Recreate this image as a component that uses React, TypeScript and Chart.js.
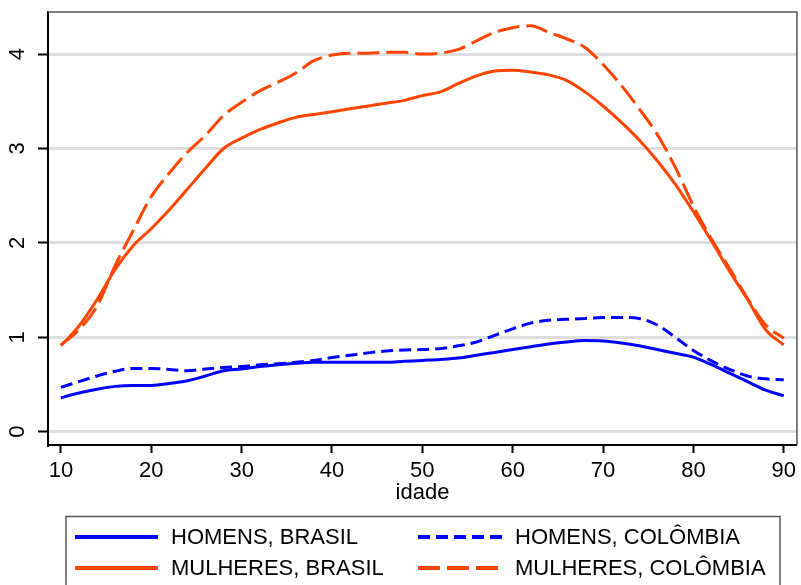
import { useEffect, useRef } from 'react';
import { Chart, registerables } from 'chart.js';

Chart.register(...registerables);

const ages = [10, 12, 14, 16, 18, 20, 22, 24, 26, 28, 30, 32, 34, 36, 38, 40, 42, 44, 46, 48, 50, 52, 54, 56, 58, 60, 62, 64, 66, 68, 70, 72, 74, 76, 78, 80, 82, 84, 86, 88, 90];

const homensBrasil = [0.36, 0.41, 0.45, 0.48, 0.49, 0.49, 0.51, 0.54, 0.59, 0.645, 0.665, 0.69, 0.71, 0.725, 0.735, 0.735, 0.735, 0.735, 0.735, 0.745, 0.755, 0.765, 0.78, 0.81, 0.84, 0.87, 0.9, 0.93, 0.95, 0.965, 0.96, 0.94, 0.91, 0.87, 0.83, 0.79, 0.71, 0.62, 0.53, 0.44, 0.38];

const homensColombia = [0.47, 0.53, 0.59, 0.64, 0.67, 0.67, 0.66, 0.645, 0.665, 0.68, 0.69, 0.71, 0.72, 0.735, 0.755, 0.785, 0.81, 0.835, 0.855, 0.865, 0.87, 0.88, 0.91, 0.95, 1.02, 1.09, 1.15, 1.18, 1.19, 1.2, 1.21, 1.21, 1.2, 1.13, 1.0, 0.86, 0.75, 0.66, 0.59, 0.56, 0.55];

const mulheresBrasil = [0.91, 1.12, 1.4, 1.72, 1.97, 2.15, 2.35, 2.57, 2.79, 3.0, 3.11, 3.2, 3.27, 3.33, 3.36, 3.39, 3.42, 3.45, 3.48, 3.51, 3.56, 3.6, 3.69, 3.77, 3.82, 3.83, 3.81, 3.78, 3.72, 3.6, 3.45, 3.28, 3.09, 2.87, 2.62, 2.33, 2.02, 1.7, 1.4, 1.08, 0.92];

const mulheresColombia = [0.92, 1.08, 1.33, 1.76, 2.13, 2.49, 2.74, 2.96, 3.14, 3.35, 3.49, 3.61, 3.7, 3.8, 3.93, 3.99, 4.01, 4.01, 4.02, 4.02, 4.0, 4.01, 4.05, 4.14, 4.23, 4.28, 4.3, 4.23, 4.16, 4.07, 3.89, 3.67, 3.42, 3.15, 2.8, 2.39, 2.04, 1.73, 1.41, 1.13, 0.99];

const seriesLabels = ['HOMENS, BRASIL', 'HOMENS, COLÔMBIA', 'MULHERES, BRASIL', 'MULHERES, COLÔMBIA'];
const xTicks = [10, 20, 30, 40, 50, 60, 70, 80, 90];
const yTicks = [0, 1, 2, 3, 4];
const xTitle = 'idade';

const BLUE = '#0000ff';
const ORANGE = '#ff4500';
const FONT = '"Liberation Sans", Arial, Helvetica, sans-serif';

const toPoints = (vals: number[]) => ages.map((a, i) => ({ x: a, y: vals[i] }));

const decorPlugin = {
  id: 'decor',
  afterDraw(chart: any) {
    const { ctx, chartArea: a, scales } = chart;
    const ys = scales.y;
    ctx.save();
    // top/right frame
    ctx.strokeStyle = '#555';
    ctx.lineWidth = 1.5;
    ctx.beginPath();
    ctx.moveTo(a.left, a.top);
    ctx.lineTo(a.right, a.top);
    ctx.lineTo(a.right, a.bottom);
    ctx.stroke();

    // rotated y tick labels
    ctx.fillStyle = '#000';
    ctx.font = `22px ${FONT}`;
    ctx.textAlign = 'center';
    ctx.textBaseline = 'middle';
    for (const v of yTicks) {
      const py = ys.getPixelForValue(v);
      ctx.save();
      ctx.translate(17.5, py);
      ctx.rotate(-Math.PI / 2);
      ctx.fillText(String(v), 0, 0);
      ctx.restore();
    }

    // x title
    ctx.fillText(xTitle, (a.left + a.right) / 2, 493);

    // legend
    ctx.strokeStyle = '#555';
    ctx.lineWidth = 1.5;
    ctx.strokeRect(66, 516.5, 714, 100);
    const cols = [{ x0: 75, x1: 158, tx: 171 }, { x0: 418, x1: 502, tx: 515 }];
    const rows = [537, 568];
    chart.data.datasets.forEach((ds: any, i: number) => {
      const c = cols[i % 2];
      const r = rows[Math.floor(i / 2)];
      ctx.save();
      ctx.strokeStyle = ds.borderColor;
      ctx.lineWidth = 4;
      ctx.lineCap = 'butt';
      ctx.setLineDash(ds.borderDash || []);
      ctx.beginPath();
      ctx.moveTo(c.x0, r);
      ctx.lineTo(c.x1, r);
      ctx.stroke();
      ctx.restore();
      ctx.fillStyle = '#000';
      ctx.textAlign = 'left';
      ctx.textBaseline = 'middle';
      ctx.font = `22px ${FONT}`;
      ctx.fillText(ds.label, c.tx, r + 1);
    });
    ctx.restore();
  },
};

export default function App() {
  const ref = useRef<HTMLCanvasElement | null>(null);
  useEffect(() => {
    if (!ref.current) return;
    const chart = new Chart(ref.current, {
      type: 'line',
      data: {
        datasets: [
          { label: seriesLabels[0], data: toPoints(homensBrasil), borderColor: BLUE, borderWidth: 3, borderDash: [] },
          { label: seriesLabels[1], data: toPoints(homensColombia), borderColor: BLUE, borderWidth: 3, borderDash: [12, 6] },
          { label: seriesLabels[2], data: toPoints(mulheresBrasil), borderColor: ORANGE, borderWidth: 3, borderDash: [] },
          { label: seriesLabels[3], data: toPoints(mulheresColombia), borderColor: ORANGE, borderWidth: 3, borderDash: [22, 7] },
        ] as any,
      },
      options: {
        animation: false,
        responsive: false,
        parsing: false as any,
        elements: {
          point: { radius: 0, hoverRadius: 0 },
          line: { cubicInterpolationMode: 'monotone', borderCapStyle: 'butt', fill: false },
        },
        layout: { padding: { top: 12, right: 1, left: 0, bottom: 0 } },
        plugins: { legend: { display: false }, tooltip: { enabled: false }, title: { display: false } },
        scales: {
          x: {
            type: 'linear',
            min: 8.57,
            max: 91.46,
            afterBuildTicks: (s: any) => { s.ticks = xTicks.map((v) => ({ value: v })); },
            afterFit: (s: any) => { s.height = 140; },
            ticks: { font: { family: FONT, size: 22 }, color: '#000', padding: 5, autoSkip: false, maxRotation: 0, minRotation: 0 },
            grid: { drawOnChartArea: false, drawTicks: true, tickLength: 8, tickColor: '#000', tickWidth: 2 },
            border: { display: true, color: '#000', width: 2 },
          },
          y: {
            type: 'linear',
            min: -0.141,
            max: 4.446,
            afterBuildTicks: (s: any) => { s.ticks = yTicks.map((v) => ({ value: v })); },
            afterFit: (s: any) => { s.width = 48; },
            ticks: { display: false },
            grid: { color: '#dedede', lineWidth: 3, drawTicks: true, tickLength: 10, tickColor: '#000', tickWidth: 2 },
            border: { display: true, color: '#000', width: 2 },
          },
        },
      } as any,
      plugins: [decorPlugin],
    });
    return () => chart.destroy();
  }, []);
  return (
    <div style={{ position: 'absolute', left: 0, top: 0, width: 801, height: 585, background: '#fff' }}>
      <canvas ref={ref} width={801} height={585} style={{ width: 801, height: 585, display: 'block' }} />
    </div>
  );
}
